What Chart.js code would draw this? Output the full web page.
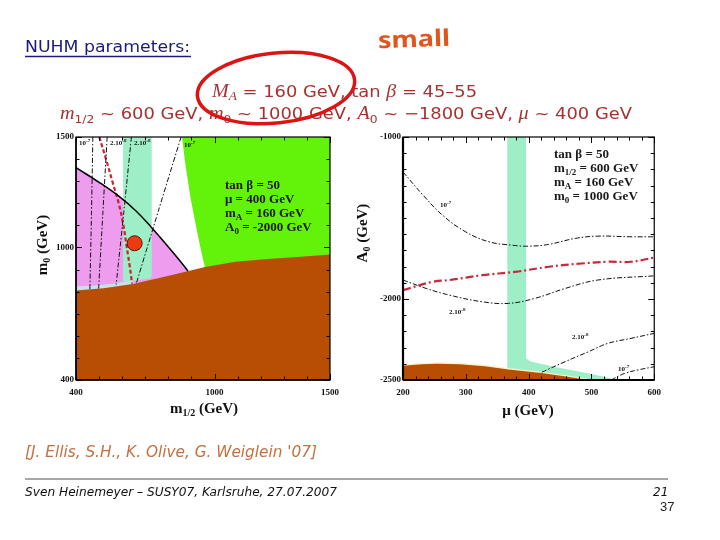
<!DOCTYPE html>
<html><head><meta charset="utf-8">
<script src="https://cdn.jsdelivr.net/npm/chart.js@4.4.1/dist/chart.umd.min.js"></script>
<style>
html,body{margin:0;padding:0;background:#fff;}
#wrap{position:relative;width:720px;height:540px;overflow:hidden;background:#fff;}
canvas{position:absolute;}
svg{position:absolute;left:0;top:0;pointer-events:none;}
.ser{font-family:"Liberation Serif","DejaVu Serif",serif;font-weight:bold;}
.sans{font-family:"DejaVu Sans","Liberation Sans",sans-serif;}
</style></head><body>
<div id="wrap">
<canvas id="left" width="310" height="290" style="left:36px;top:127px"></canvas>
<canvas id="right" width="315" height="290" style="left:353px;top:127px"></canvas>
<svg width="720" height="540" xmlns="http://www.w3.org/2000/svg">
  <!-- slide header -->
  <text x="25" y="52" class="sans" font-size="16" fill="#1c1c78" textLength="165" lengthAdjust="spacingAndGlyphs">NUHM parameters:</text>
  <line x1="25" y1="56.5" x2="191" y2="56.5" stroke="#1c1c78" stroke-width="1.3"/>
  <text x="378" y="47" font-family="Noto Sans, DejaVu Sans" font-weight="bold" font-size="23" fill="#e2561e" textLength="72" lengthAdjust="spacingAndGlyphs" transform="rotate(-2 414 40)">small</text>
  <text x="212" y="97" class="sans" font-size="16" fill="#a83232" textLength="265" lengthAdjust="spacingAndGlyphs"><tspan font-family="Liberation Serif" font-style="italic" font-size="18">M</tspan><tspan font-family="Liberation Serif" font-style="italic" font-size="12" dy="3">A</tspan><tspan dy="-3"> = 160 GeV, tan </tspan><tspan font-family="Liberation Serif" font-style="italic" font-size="18">β</tspan><tspan> = 45–55</tspan></text>
  <text x="60" y="119" class="sans" font-size="16" fill="#a83232" textLength="572" lengthAdjust="spacingAndGlyphs"><tspan font-family="Liberation Serif" font-style="italic" font-size="18">m</tspan><tspan font-size="11" dy="4">1/2</tspan><tspan dy="-4"> ~ 600 GeV, </tspan><tspan font-family="Liberation Serif" font-style="italic" font-size="18">m</tspan><tspan font-size="11" dy="4">0</tspan><tspan dy="-4"> ~ 1000 GeV, </tspan><tspan font-family="Liberation Serif" font-style="italic" font-size="18">A</tspan><tspan font-size="11" dy="4">0</tspan><tspan dy="-4"> ~ −1800 GeV, </tspan><tspan font-family="Liberation Serif" font-style="italic" font-size="18">μ</tspan><tspan> ~ 400 GeV</tspan></text>
  <ellipse cx="276" cy="88" rx="79" ry="35" fill="none" stroke="#dd1414" stroke-width="3.5" transform="rotate(-6 276 88)"/>

  <!-- axis titles -->
  <text class="ser" font-size="15" fill="#111" text-anchor="middle" transform="translate(47,245) rotate(-90)">m<tspan font-size="10" dy="3">0</tspan><tspan dy="-3"> (GeV)</tspan></text>
  <text class="ser" x="204" y="413" font-size="15" fill="#111" text-anchor="middle">m<tspan font-size="10" dy="3">1/2</tspan><tspan dy="-3"> (GeV)</tspan></text>
  <text class="ser" font-size="15" fill="#111" text-anchor="middle" transform="translate(367,233) rotate(-90)">A<tspan font-size="10" dy="3">0</tspan><tspan dy="-3"> (GeV)</tspan></text>
  <text class="ser" x="528" y="415" font-size="15" fill="#111" text-anchor="middle">μ (GeV)</text>

  <!-- left plot annotations -->
  <g class="ser" font-size="13" fill="#1a1a1a">
    <text x="225" y="189">tan β = 50</text>
    <text x="225" y="203">μ = 400 GeV</text>
    <text x="225" y="217">m<tspan font-size="9" dy="3">A</tspan><tspan dy="-3"> = 160 GeV</tspan></text>
    <text x="225" y="231">A<tspan font-size="9" dy="3">0</tspan><tspan dy="-3"> = -2000 GeV</tspan></text>
  </g>
  <g class="ser" font-size="7" fill="#111">
    <text x="79" y="145">10<tspan font-size="5" dy="-3">-7</tspan></text>
    <text x="110" y="145">2.10<tspan font-size="5" dy="-3">-8</tspan></text>
    <text x="134" y="145">2.10<tspan font-size="5" dy="-3">-8</tspan></text>
    <text x="184" y="147">10<tspan font-size="5" dy="-3">-7</tspan></text>
  </g>
  <!-- right plot annotations -->
  <g class="ser" font-size="13" fill="#1a1a1a">
    <text x="554" y="158">tan β = 50</text>
    <text x="554" y="172">m<tspan font-size="9" dy="3">1/2</tspan><tspan dy="-3"> = 600 GeV</tspan></text>
    <text x="554" y="186">m<tspan font-size="9" dy="3">A</tspan><tspan dy="-3"> = 160 GeV</tspan></text>
    <text x="554" y="200">m<tspan font-size="9" dy="3">0</tspan><tspan dy="-3"> = 1000 GeV</tspan></text>
  </g>
  <g class="ser" font-size="7" fill="#111">
    <text x="440" y="207">10<tspan font-size="5" dy="-3">-7</tspan></text>
    <text x="449" y="314">2.10<tspan font-size="5" dy="-3">-8</tspan></text>
    <text x="572" y="339">2.10<tspan font-size="5" dy="-3">-8</tspan></text>
    <text x="618" y="371">10<tspan font-size="5" dy="-3">-7</tspan></text>
  </g>

  <!-- footer -->
  <text x="25" y="457" class="sans" font-style="italic" font-size="15" fill="#c47040" textLength="292" lengthAdjust="spacingAndGlyphs">[J. Ellis, S.H., K. Olive, G. Weiglein '07]</text>
  <line x1="25" y1="479" x2="668" y2="479" stroke="#8a8a8a" stroke-width="1.3"/>
  <text x="25" y="496" class="sans" font-style="italic" font-size="12" fill="#111" textLength="312" lengthAdjust="spacingAndGlyphs">Sven Heinemeyer – SUSY07, Karlsruhe, 27.07.2007</text>
  <text x="653" y="496" class="sans" font-style="italic" font-size="12" fill="#111">21</text>
  <text x="660" y="511" font-family="Liberation Sans Narrow, Liberation Sans" font-size="13" fill="#222">37</text>
</svg>
</div>
<script>
// ---------------- Left panel: m1/2 (x, GeV) vs m0 (y, GeV) ----------------
const leftXRange = [400, 1500];
const leftYRange = [400, 1500];
const leftXTickLabels = [400, 1000, 1500];
const leftYTickLabels = [400, 1000, 1500];
const leftGreenRegion = [[859,1500],[873,1381],[895,1230],[923,1079],[941,988],[956,921],[962,860],[1500,860],[1500,1500]];
const leftPinkRegion = [[400,1361],[500,1295],[588,1230],[660,1165],[724,1094],[790,1015],[850,940],[885,893],[890,780],[400,780]];
const leftMintBand = [[604,1500],[728,1500],[728,868],[718,860],[640,848],[604,848]];
const leftLightStrip = [[400,790],[400,823],[480,828],[560,836],[610,846],[640,852],[660,835],[660,790]];
const leftBrownRegion = [[400,805],[520,815],[645,835],[760,862],[888,893],[959,912],[1090,935],[1230,948],[1373,958],[1500,968],[1500,400],[400,400]];
const leftBoundaryCurve = [[400,1361],[500,1295],[588,1230],[660,1165],[724,1094],[790,1015],[850,940],[885,893]];
const leftContour1e7a = [[473,1500],[467,1150],[460,806]];
const leftContour2e8a = [[535,1500],[516,1150],[498,814]];
const leftContour2e8b = [[640,1500],[606,1150],[574,832]];
const leftContour1e7b = [[855,1500],[758,1170],[662,840]];
const leftRedContour = [[501,1500],[530,1400],[560,1290],[585,1200],[605,1102],[620,1000],[632,920],[643,836]];
const leftBestFit = [[654,1019]];

// ---------------- Right panel: mu (x, GeV) vs A0 (y, GeV) ----------------
const rightXRange = [200, 600];
const rightYRange = [-2500, -1000];
const rightXTickLabels = [200, 300, 400, 500, 600];
const rightYTickLabels = [-1000, -2000, -2500];
const rightMintBand = [[366,-1000],[396,-1000],[396,-2365],[402,-2385],[440,-2418],[480,-2448],[515,-2475],[540,-2500],[366,-2500],[366,-2400]];
const rightCreamStrip = [[200,-2403],[255,-2391],[290,-2394],[330,-2406],[368,-2426],[420,-2449],[460,-2470],[505,-2500],[200,-2500]];
const rightBrownRegion = [[200,-2412],[230,-2403],[255,-2400],[290,-2403],[330,-2415],[368,-2435],[420,-2457],[460,-2478],[495,-2500],[200,-2500]];
const rightContour1e7a = [[200,-1216],[232,-1359],[263,-1483],[300,-1586],[337,-1647],[374,-1668],[400,-1674],[432,-1663],[474,-1626],[510,-1612],[563,-1616],[600,-1616]];
const rightRedContour = [[200,-1945],[247,-1894],[274,-1883],[326,-1853],[379,-1832],[432,-1801],[484,-1781],[526,-1770],[563,-1770],[600,-1744]];
const rightContour2e8a = [[200,-1883],[237,-1935],[274,-1976],[326,-2017],[368,-2027],[410,-1996],[458,-1935],[510,-1883],[600,-1857]];
const rightContour2e8b = [[421,-2452],[458,-2387],[495,-2326],[526,-2274],[563,-2243],[600,-2212]];
const rightContour1e7b = [[531,-2500],[553,-2459],[574,-2438],[600,-2418]];

// ---------------- helpers ----------------
const xy = arr => arr.map(p => ({x: p[0], y: p[1]}));
const poly = (arr, color, order) => ({data: xy(arr), backgroundColor: color, borderColor: 'rgba(0,0,0,0)', borderWidth: 0,
  fill: 'shape', pointRadius: 0, tension: 0, order});
const curve = (arr, color, width, dash, order, tension) => ({data: xy(arr), borderColor: color, borderWidth: width,
  borderDash: dash, fill: false, pointRadius: 0, tension: tension === undefined ? 0.4 : tension, order});

const frameTicks = {
  id: 'frameTicks',
  afterDatasetsDraw(chart, args, o) {
    const {ctx, chartArea: a} = chart;
    const sx = chart.scales.x, sy = chart.scales.y;
    ctx.save();
    ctx.strokeStyle = '#000';
    ctx.lineWidth = 1;
    const seg = (x1, y1, x2, y2) => { ctx.beginPath(); ctx.moveTo(x1, y1); ctx.lineTo(x2, y2); ctx.stroke(); };
    for (let v = sx.min; v <= sx.max + 1e-6; v += o.xStep) {
      const p = Math.round(sx.getPixelForValue(v)) + 0.5;
      const L = o.xMajor.includes(v) ? 6 : 3.5;
      seg(p, a.bottom, p, a.bottom - L); seg(p, a.top, p, a.top + L);
    }
    for (let v = sy.min; v <= sy.max + 1e-6; v += o.yStep) {
      const p = Math.round(sy.getPixelForValue(v)) + 0.5;
      const L = o.yMajor.includes(v) ? 6 : 3.5;
      seg(a.left, p, a.left + L, p); seg(a.right, p, a.right - L, p);
    }
    ctx.lineWidth = o.frame;
    ctx.strokeRect(a.left, a.top, a.width, a.height);
    ctx.lineWidth = o.axis;
    seg(a.left, a.top, a.left, a.bottom);
    seg(a.left, a.bottom, a.right, a.bottom);
    ctx.restore();
  }
};

function makeChart(id, datasets, xr, yr, xLab, yLab, yWidth, padRight, frameOpts) {
  const tickFont = {family: '"Liberation Serif", serif', weight: 'bold', size: 9};
  const grid = {display: false, drawTicks: false, tickLength: 0};
  return new Chart(document.getElementById(id), {
    type: 'line',
    data: {datasets},
    options: {
      responsive: false, animation: false, events: [],
      layout: {padding: {left: 0, right: padRight, top: 10, bottom: 7}},
      plugins: {legend: {display: false}, tooltip: {enabled: false}, frameTicks: frameOpts},
      scales: {
        x: {type: 'linear', position: 'bottom', min: xr[0], max: xr[1],
            grid, border: {display: false},
            ticks: {stepSize: 100, autoSkip: false, maxRotation: 0, padding: 7, color: '#111', font: tickFont,
                    callback: v => xLab.includes(v) ? String(v) : ''},
            afterFit: s => { s.height = 30; }},
        y: {type: 'linear', position: 'left', min: yr[0], max: yr[1],
            grid, border: {display: false},
            ticks: {stepSize: 100, autoSkip: false, padding: 2, color: '#111', font: tickFont,
                    callback: v => yLab.includes(v) ? String(v) : ''},
            afterFit: s => { s.width = yWidth; }}
      }
    },
    plugins: [frameTicks]
  });
}

const blackDash = [5, 2, 1.5, 2];

makeChart('left', [
  {data: xy(leftBestFit), showLine: false, pointRadius: 7.5, pointBackgroundColor: '#ee3a12',
   pointBorderColor: '#5a1000', pointBorderWidth: 1, order: 0},
  curve(leftBoundaryCurve, '#000', 1.5, [], 1),
  curve(leftContour1e7a, '#111', 1, blackDash, 1, 0.2),
  curve(leftContour2e8a, '#111', 1, blackDash, 1, 0.2),
  curve(leftContour2e8b, '#111', 1, blackDash, 1, 0.2),
  curve(leftContour1e7b, '#111', 1, blackDash, 1, 0.2),
  curve(leftRedContour, '#cc2030', 2.2, [4, 2.5], 1),
  poly(leftBrownRegion, '#b84e04', 2),
  poly(leftMintBand, '#9eefc8', 3),
  poly(leftLightStrip, '#c3e3e6', 4),
  poly(leftPinkRegion, '#ee9cee', 5),
  poly(leftGreenRegion, '#63f20a', 6)
], leftXRange, leftYRange, leftXTickLabels, leftYTickLabels, 40, 13,
  {xStep: 100, yStep: 100, xMajor: leftXTickLabels, yMajor: leftYTickLabels, frame: 1.2, axis: 1.5});

makeChart('right', [
  curve(rightContour1e7a, '#111', 1, blackDash, 1),
  curve(rightRedContour, '#c8283c', 2.2, [8, 3, 2, 3], 1),
  curve(rightContour2e8a, '#111', 1, blackDash, 1),
  curve(rightContour2e8b, '#111', 1, blackDash, 1),
  curve(rightContour1e7b, '#111', 1, blackDash, 1),
  poly(rightBrownRegion, '#b84e04', 2),
  poly(rightCreamStrip, '#fbf0c4', 3),
  poly(rightMintBand, '#9eefc8', 4)
], rightXRange, rightYRange, rightXTickLabels, rightYTickLabels, 50, 11,
  {xStep: 20, yStep: 100, xMajor: rightXTickLabels, yMajor: rightYTickLabels, frame: 1.2, axis: 2.2});
</script>
</body></html>
